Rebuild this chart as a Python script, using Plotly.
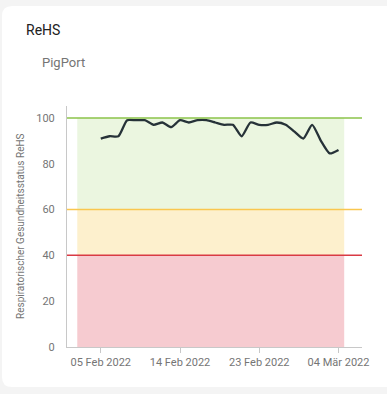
import plotly.graph_objects as go

# ---- data ----
dates = [
    "2022-02-05", "2022-02-06", "2022-02-07", "2022-02-08", "2022-02-09",
    "2022-02-10", "2022-02-11", "2022-02-12", "2022-02-13", "2022-02-14",
    "2022-02-15", "2022-02-16", "2022-02-17", "2022-02-18", "2022-02-19",
    "2022-02-20", "2022-02-21", "2022-02-22", "2022-02-23", "2022-02-24",
    "2022-02-25", "2022-02-26", "2022-02-27", "2022-02-28", "2022-03-01",
    "2022-03-02", "2022-03-03", "2022-03-04",
]
rehs = [91, 92, 92, 99, 99, 99, 97, 98, 96, 99,
        98, 99, 99, 98, 97, 97, 92, 98, 97, 97,
        98, 97, 94, 91, 97, 90, 84.5, 86]

tick_vals = ["2022-02-05", "2022-02-14", "2022-02-23", "2022-03-04"]
tick_text = ["05 Feb 2022", "14 Feb 2022", "23 Feb 2022", "04 Mär 2022"]
y_ticks = [0, 20, 40, 60, 80, 100]

bands = [  # (low, high, fill)
    (60, 100, "#ebf6e0"),
    (40, 60, "#fdf0cd"),
    (0, 40, "#f6cbd0"),
]
thresholds = [(100, "#8bc34a"), (60, "#f9c74f"), (40, "#d93a44")]
band_x0, band_x1 = "2022-02-02 08:00", "2022-03-04 15:30"
x_range = ["2022-02-01 04:00", "2022-03-06 16:00"]

# ---- layout helpers (pixel -> paper) ----
L, R, T, B = 67, 25, 106, 47
W, H = 387, 394
PW, PH = W - L - R, H - T - B
def px(x): return (x - L) / PW
def py(y): return (H - B - y) / PH

fig = go.Figure()

shapes = []
# card
x0, x1 = px(2), px(400)
yt, yb = py(6), py(387)
rx, ry = 10 / PW, 10 / PH
path = (f"M {x0+rx},{yt} L {x1},{yt} L {x1},{yb} L {x0+rx},{yb} "
        f"Q {x0},{yb} {x0},{yb+ry} L {x0},{yt-ry} Q {x0},{yt} {x0+rx},{yt} Z")
shapes.append(dict(type="path", path=path, xref="paper", yref="paper",
                   fillcolor="white", line=dict(width=0), layer="below"))
for lo, hi, col in bands:
    shapes.append(dict(type="rect", xref="x", yref="y", x0=band_x0, x1=band_x1,
                       y0=lo, y1=hi, fillcolor=col, line=dict(width=0), layer="below"))
for val, col in thresholds:
    shapes.append(dict(type="line", xref="paper", yref="y", x0=0, x1=1,
                       y0=val, y1=val, line=dict(color=col, width=1.5), layer="above"))

fig.add_trace(go.Scatter(
    x=dates, y=rehs, mode="lines",
    line=dict(color="#263238", width=2.3, shape="spline", smoothing=0.6),
    hoverinfo="x+y", showlegend=False,
))

annotations = [
    dict(text="ReHS", x=px(24), y=py(30), xref="paper", yref="paper",
         xanchor="left", yanchor="middle", showarrow=False,
         font=dict(size=14, color="#212121", family="Roboto")),
    dict(text="PigPort", x=px(40), y=py(63), xref="paper", yref="paper",
         xanchor="left", yanchor="middle", showarrow=False,
         font=dict(size=13, color="#757575", family="Roboto")),
    dict(text="Respiratorischer Gesundheitsstatus ReHS", x=px(20), y=py(226),
         xref="paper", yref="paper", xanchor="center", yanchor="middle",
         textangle=-90, showarrow=False,
         font=dict(size=10, color="#757575", family="Roboto")),
]

fig.update_layout(
    width=W, height=H,
    margin=dict(l=L, r=R, t=T, b=B),
    paper_bgcolor="#f4f4f4",
    plot_bgcolor="rgba(0,0,0,0)",
    shapes=shapes,
    annotations=annotations,
    font=dict(family="Roboto", color="#757575", size=11),
    xaxis=dict(
        type="date", range=x_range, tickvals=tick_vals, ticktext=tick_text,
        showgrid=False, zeroline=False, showline=True, linecolor="#c8c8c8",
        linewidth=1, ticks="outside", ticklen=5, tickcolor="#c8c8c8",
        tickfont=dict(size=11, color="#757575"),
    ),
    yaxis=dict(
        range=[0, 105.2], tickvals=y_ticks, showgrid=False, zeroline=False,
        showline=True, linecolor="#c8c8c8", linewidth=1, ticks="",
        ticklabelstandoff=9, tickfont=dict(size=11, color="#757575"),
    ),
)

fig.write_html("out.html", config={"displayModeBar": False})

# remove default page margin so the figure fills the window exactly
with open("out.html", encoding="utf-8") as f:
    html = f.read()
html = html.replace("<head>", "<head><style>html,body{margin:0;padding:0;overflow:hidden;background:#f4f4f4}</style>", 1)
with open("out.html", "w", encoding="utf-8") as f:
    f.write(html)
